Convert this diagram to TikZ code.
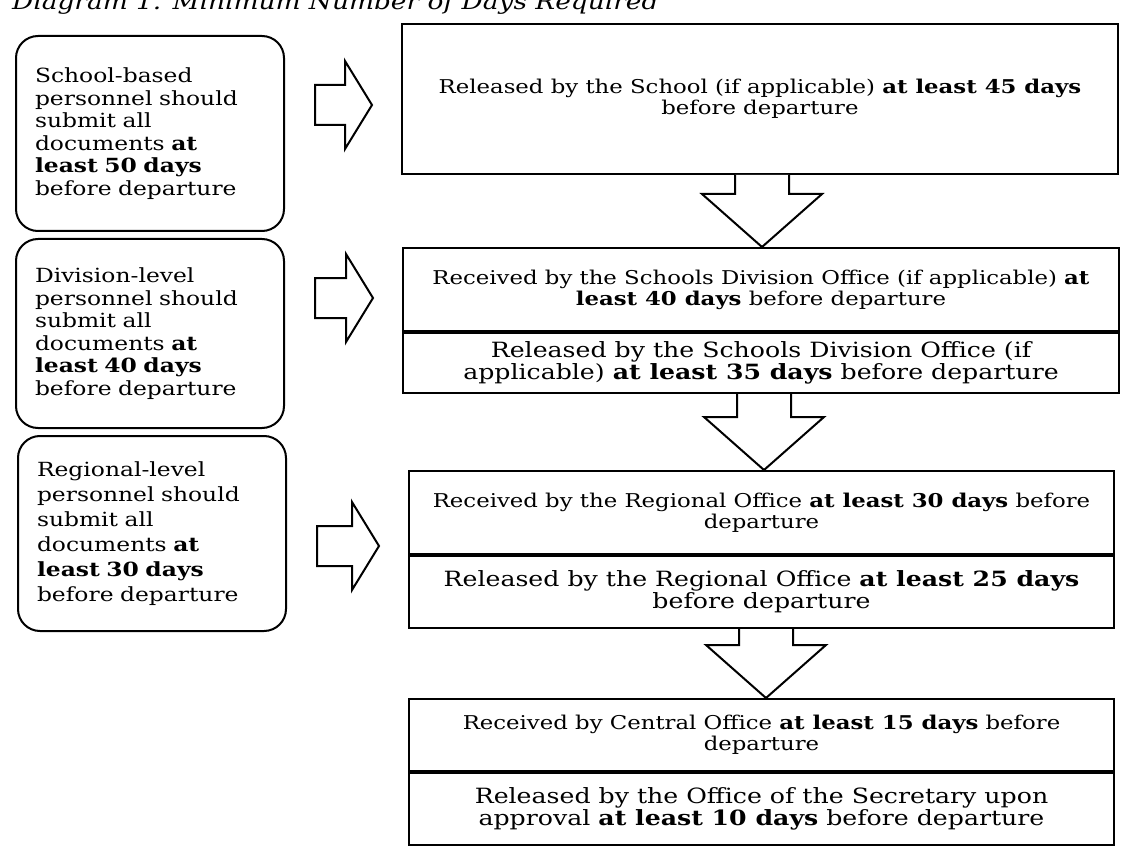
\documentclass[tikz,border=0pt]{standalone}
\usepackage{fontspec}
\setmainfont[FakeStretch=1.2]{DejaVu Serif}
\usetikzlibrary{calc}

\def\rightblock#1#2#3{%
  \draw [blockarrow] ($(#1.east |- 0,#3)+(30,-20)$) -- ($(#2.west |- 0,#3)+(-56,-20)$) -- ++(0,-24)
    -- ($(#2.west |- 0,#3)+(-29,0)$) -- ($(#2.west |- 0,#3)+(-56,44)$) -- ++(0,-24)
    -- ($(#1.east |- 0,#3)+(30,20)$) -- cycle;}
\def\downblock#1#2#3{%
  \draw [blockarrow] ($(#1.south -| #3,0)+(-27,0)$) -- ($(#2.north -| #3,0)+(-27,-53)$) -- ++(-33,0)
    -- (#2.north -| #3,0) -- ++(60,-53) -- ++(-33,0) -- ($(#1.south -| #3,0)+(27,0)$);}

\begin{document}
\begin{tikzpicture}[x=1pt,y=-1pt,
    leftbox/.style={draw,line width=2pt,rounded corners=22pt,anchor=north west,text width=230pt,
      inner xsep=19pt,minimum height=195pt,align=left,font=\fontsize{19.5}{22.5}\selectfont},
    stepbox/.style={draw,line width=2pt,anchor=north west,minimum width=716pt,align=center,
      font=\fontsize{19}{21}\selectfont},
    bigtext/.style={font=\fontsize{21}{22}\selectfont},
    blockarrow/.style={draw,line width=2pt,fill=white},
    inner sep=0pt]
  \useasboundingbox (0,0) rectangle (1121,850);
  \begin{scope}
    \clip (0,0) rectangle (1121,850);
    \node [anchor=base west,font=\fontsize{22}{24}\itshape] (caption) at (12,10) {Diagram 1. Minimum Number of Days Required};
  \end{scope}

  \node [leftbox] (schoolsub) at (15,35) {School-based\\personnel should\\submit all\\documents \textbf{at}\\\textbf{least 50 days}\\before departure};
  \node [leftbox,minimum height=189pt] (divsub) at (15,238) {Division-level\\personnel should\\submit all\\documents \textbf{at}\\\textbf{least 40 days}\\before departure};
  \node [leftbox,font=\fontsize{19.5}{25}\selectfont] (regsub) at (17,435) {Regional-level\\personnel should\\submit all\\documents \textbf{at}\\\textbf{least 30 days}\\before departure};

  \node [stepbox,minimum height=150pt] (schoolrel) at (401,23) {Released by the School (if applicable) \textbf{at least 45 days}\\before departure};
  \node [stepbox,minimum height=83pt] (divrec) at (402,247) {Received by the Schools Division Office (if applicable) \textbf{at}\\\textbf{least 40 days} before departure};
  \node [stepbox,bigtext,minimum height=60pt] (divrel) at (divrec.south west) {Released by the Schools Division Office (if\\applicable) \textbf{at least 35 days} before departure};
  \node [stepbox,minimum width=705pt,minimum height=83pt] (regrec) at (408,470) {Received by the Regional Office \textbf{at least 30 days} before\\departure};
  \node [stepbox,bigtext,minimum width=705pt,minimum height=72pt] (regrel) at (regrec.south west) {Released by the Regional Office \textbf{at least 25 days}\\before departure};
  \node [stepbox,minimum width=705pt,minimum height=72pt] (cenrec) at (408,698) {Received by Central Office \textbf{at least 15 days} before\\departure};
  \node [stepbox,bigtext,minimum width=705pt,minimum height=72pt] (secrel) at (cenrec.south west) {Released by the Office of the Secretary upon\\approval \textbf{at least 10 days} before departure};

  \rightblock{schoolsub}{schoolrel}{105}
  \rightblock{divsub}{divrec}{298}
  \rightblock{regsub}{regrec}{546}
  \downblock{schoolrel}{divrec}{762}
  \downblock{divrel}{regrec}{764}
  \downblock{regrel}{cenrec}{766}
\end{tikzpicture}
\end{document}
